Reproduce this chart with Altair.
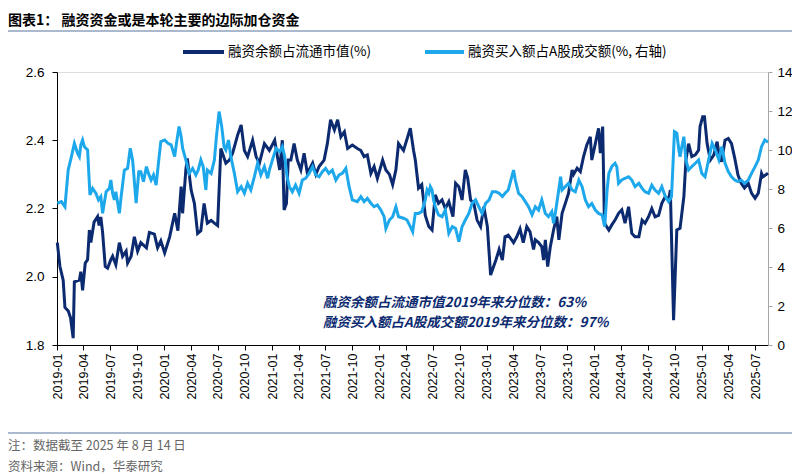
import altair as alt
import pandas as pd

# ---------------- data ----------------
dates_margin = [
    "2019-01-02", "2019-01-11", "2019-01-22", "2019-01-28", "2019-02-08", "2019-02-16", "2019-02-25",
    "2019-03-01", "2019-03-18", "2019-03-23", "2019-03-29", "2019-04-07", "2019-04-15", "2019-04-21",
    "2019-04-26", "2019-05-07", "2019-05-19", "2019-05-24", "2019-05-30", "2019-06-05", "2019-06-14",
    "2019-06-22", "2019-07-03", "2019-07-09", "2019-07-20", "2019-08-01", "2019-08-12", "2019-08-24",
    "2019-08-29", "2019-09-10", "2019-09-21", "2019-10-02", "2019-10-13", "2019-11-01", "2019-11-11",
    "2019-11-28", "2019-12-09", "2019-12-20", "2020-01-02", "2020-01-19", "2020-02-05", "2020-02-16",
    "2020-02-27", "2020-03-03", "2020-03-14", "2020-03-19", "2020-04-01", "2020-04-12", "2020-04-23",
    "2020-05-04", "2020-05-15", "2020-05-26", "2020-06-08", "2020-06-19", "2020-06-30", "2020-07-11",
    "2020-07-28", "2020-08-09", "2020-08-20", "2020-09-06", "2020-09-18", "2020-09-29", "2020-10-10",
    "2020-10-27", "2020-11-08", "2020-11-19", "2020-12-06", "2020-12-23", "2021-01-10", "2021-01-27",
    "2021-02-05", "2021-02-11", "2021-02-19", "2021-02-25", "2021-03-06", "2021-03-17", "2021-03-28",
    "2021-04-09", "2021-04-20", "2021-05-01", "2021-05-19", "2021-05-30", "2021-06-10", "2021-06-27",
    "2021-07-08", "2021-07-19", "2021-08-01", "2021-08-12", "2021-08-23", "2021-09-04", "2021-09-15",
    "2021-10-01", "2021-10-18", "2021-10-30", "2021-11-10", "2021-11-21", "2021-12-03", "2021-12-14",
    "2021-12-25", "2022-01-12", "2022-01-23", "2022-02-04", "2022-02-15", "2022-02-26", "2022-03-07",
    "2022-03-24", "2022-04-16", "2022-04-27", "2022-05-03", "2022-05-14", "2022-05-25", "2022-06-06",
    "2022-06-18", "2022-06-29", "2022-07-10", "2022-07-21", "2022-08-02", "2022-08-13", "2022-08-25",
    "2022-09-08", "2022-09-17", "2022-09-28", "2022-10-09", "2022-10-20", "2022-10-28", "2022-11-07",
    "2022-11-18", "2022-11-29", "2022-12-11", "2022-12-22", "2023-01-03", "2023-01-14", "2023-02-01",
    "2023-02-12", "2023-02-23", "2023-03-04", "2023-03-15", "2023-04-02", "2023-04-13", "2023-04-24",
    "2023-05-05", "2023-05-17", "2023-05-28", "2023-06-09", "2023-06-15", "2023-06-26", "2023-07-07",
    "2023-07-13", "2023-07-19", "2023-07-27", "2023-08-05", "2023-08-16", "2023-08-27", "2023-09-03",
    "2023-09-14", "2023-09-25", "2023-10-06", "2023-10-18", "2023-10-23", "2023-11-04", "2023-11-15",
    "2023-11-26", "2023-12-07", "2023-12-19", "2023-12-24", "2024-01-05", "2024-01-16", "2024-01-22",
    "2024-01-30", "2024-02-05", "2024-02-20", "2024-03-01", "2024-03-12", "2024-03-24", "2024-04-04",
    "2024-04-15", "2024-04-27", "2024-05-08", "2024-05-19", "2024-06-01", "2024-06-12", "2024-06-22",
    "2024-07-04", "2024-07-15", "2024-07-26", "2024-08-07", "2024-08-18", "2024-08-30", "2024-09-10",
    "2024-09-16", "2024-09-27", "2024-10-08", "2024-10-19", "2024-11-01", "2024-11-08", "2024-11-17",
    "2024-11-28", "2024-12-10", "2024-12-21", "2024-12-26", "2025-01-04", "2025-01-10", "2025-01-19",
    "2025-01-30", "2025-02-11", "2025-02-22", "2025-02-28", "2025-03-09", "2025-03-21", "2025-04-01",
    "2025-04-12", "2025-04-23", "2025-05-04", "2025-05-15", "2025-05-26", "2025-06-08", "2025-06-19",
    "2025-07-01", "2025-07-12", "2025-07-23", "2025-07-28", "2025-08-14",
]
margin_ratio = [
    2.10, 2.03, 1.99, 1.91, 1.90, 1.88, 1.82,
    1.985, 1.99, 2.015, 1.96, 2.04, 2.05, 2.137,
    2.10, 2.16, 2.176, 2.15, 2.175, 2.13, 2.03,
    2.025, 2.05, 2.06, 2.035, 2.10, 2.06, 2.075,
    2.04, 2.06, 2.117, 2.075, 2.10, 2.085, 2.13,
    2.125, 2.085, 2.105, 2.07, 2.117, 2.186, 2.135,
    2.264, 2.186, 2.313, 2.347, 2.254, 2.215, 2.127,
    2.135, 2.215, 2.157, 2.165, 2.157, 2.15, 2.376,
    2.333, 2.342, 2.362, 2.415, 2.445, 2.37, 2.352,
    2.40, 2.352, 2.333, 2.39, 2.37, 2.40, 2.313,
    2.40, 2.196, 2.215, 2.342, 2.342, 2.39, 2.342,
    2.313, 2.362, 2.303, 2.333, 2.30, 2.323, 2.342,
    2.39, 2.46, 2.43, 2.46, 2.41, 2.425, 2.376,
    2.386, 2.376, 2.37, 2.352, 2.357, 2.303, 2.323,
    2.288, 2.342, 2.313, 2.30, 2.27, 2.313, 2.39,
    2.37, 2.435, 2.371, 2.342, 2.26, 2.27, 2.18,
    2.147, 2.137, 2.24, 2.215, 2.225, 2.20, 2.22,
    2.176, 2.274, 2.264, 2.225, 2.313, 2.29, 2.225,
    2.215, 2.166, 2.147, 2.205, 2.147, 2.005, 2.049,
    2.08, 2.049, 2.117, 2.122, 2.10, 2.117, 2.14,
    2.10, 2.147, 2.132, 2.08, 2.108, 2.10, 2.088,
    2.049, 2.108, 2.03, 2.088, 2.137, 2.176, 2.108,
    2.186, 2.215, 2.245, 2.313, 2.30, 2.318, 2.308,
    2.352, 2.386, 2.41, 2.342, 2.39, 2.435, 2.362,
    2.44, 2.157, 2.137, 2.152, 2.166, 2.186, 2.196,
    2.157, 2.205, 2.127, 2.117, 2.117, 2.166, 2.157,
    2.176, 2.20, 2.176, 2.18, 2.215, 2.235, 2.225,
    2.254, 1.873, 2.137, 2.142, 2.235, 2.342, 2.39,
    2.352, 2.357, 2.371, 2.44, 2.469, 2.469, 2.39,
    2.342, 2.357, 2.396, 2.362, 2.337, 2.40, 2.405,
    2.39, 2.347, 2.298, 2.274, 2.26, 2.274, 2.245,
    2.23, 2.245, 2.303, 2.293, 2.303,
]

dates_buy = [
    "2019-01-02", "2019-01-16", "2019-01-28", "2019-02-08", "2019-02-19", "2019-03-01", "2019-03-12",
    "2019-03-18", "2019-03-23", "2019-03-29", "2019-04-04", "2019-04-15", "2019-04-23", "2019-05-02",
    "2019-05-13", "2019-05-22", "2019-05-30", "2019-06-05", "2019-06-17", "2019-06-28", "2019-07-03",
    "2019-07-09", "2019-07-15", "2019-07-20", "2019-08-01", "2019-08-07", "2019-08-18", "2019-08-29",
    "2019-09-07", "2019-09-15", "2019-09-27", "2019-10-06", "2019-10-13", "2019-10-22", "2019-11-01",
    "2019-11-08", "2019-11-17", "2019-11-25", "2019-12-04", "2019-12-13", "2019-12-20", "2020-01-02",
    "2020-01-13", "2020-01-24", "2020-02-05", "2020-02-11", "2020-02-20", "2020-02-27", "2020-03-03",
    "2020-03-14", "2020-03-25", "2020-04-06", "2020-04-17", "2020-04-25", "2020-05-04", "2020-05-12",
    "2020-05-21", "2020-05-26", "2020-06-08", "2020-06-19", "2020-06-26", "2020-07-05", "2020-07-14",
    "2020-07-22", "2020-07-28", "2020-08-06", "2020-08-14", "2020-08-26", "2020-09-06", "2020-09-18",
    "2020-09-29", "2020-10-10", "2020-10-21", "2020-11-02", "2020-11-13", "2020-11-24", "2020-12-06",
    "2020-12-17", "2020-12-23", "2021-01-04", "2021-01-15", "2021-01-27", "2021-02-05", "2021-02-13",
    "2021-02-21", "2021-03-01", "2021-03-11", "2021-03-22", "2021-04-03", "2021-04-14", "2021-04-25",
    "2021-05-07", "2021-05-19", "2021-05-30", "2021-06-10", "2021-06-21", "2021-07-02", "2021-07-13",
    "2021-07-25", "2021-08-06", "2021-08-17", "2021-08-28", "2021-09-09", "2021-09-20", "2021-10-01",
    "2021-10-18", "2021-10-30", "2021-11-10", "2021-11-21", "2021-12-03", "2021-12-14", "2021-12-25",
    "2022-01-06", "2022-01-17", "2022-01-23", "2022-02-04", "2022-02-15", "2022-02-26", "2022-03-07",
    "2022-03-24", "2022-04-05", "2022-04-16", "2022-04-24", "2022-05-03", "2022-05-14", "2022-05-25",
    "2022-06-06", "2022-06-12", "2022-06-18", "2022-06-23", "2022-06-29", "2022-07-04", "2022-07-10",
    "2022-07-21", "2022-08-02", "2022-08-13", "2022-08-25", "2022-09-06", "2022-09-17", "2022-09-28",
    "2022-10-09", "2022-10-20", "2022-11-01", "2022-11-12", "2022-11-24", "2022-12-05", "2022-12-16",
    "2022-12-28", "2023-01-09", "2023-01-20", "2023-02-01", "2023-02-12", "2023-02-23", "2023-03-04",
    "2023-03-15", "2023-04-02", "2023-04-08", "2023-04-19", "2023-05-01", "2023-05-12", "2023-05-23",
    "2023-06-04", "2023-06-15", "2023-06-26", "2023-07-07", "2023-07-19", "2023-07-30", "2023-08-10",
    "2023-08-16", "2023-08-22", "2023-09-01", "2023-09-09", "2023-09-14", "2023-09-25", "2023-10-06",
    "2023-10-18", "2023-10-29", "2023-11-10", "2023-11-21", "2023-12-02", "2023-12-13", "2023-12-24",
    "2024-01-05", "2024-01-16", "2024-01-28", "2024-02-06", "2024-02-14", "2024-02-20", "2024-03-01",
    "2024-03-12", "2024-03-18", "2024-03-24", "2024-04-04", "2024-04-15", "2024-04-27", "2024-05-08",
    "2024-05-19", "2024-06-01", "2024-06-12", "2024-06-22", "2024-07-04", "2024-07-15", "2024-07-26",
    "2024-08-07", "2024-08-18", "2024-08-30", "2024-09-10", "2024-09-20", "2024-09-30", "2024-10-08",
    "2024-10-15", "2024-10-19", "2024-10-25", "2024-11-01", "2024-11-08", "2024-11-17", "2024-11-28",
    "2024-12-10", "2024-12-21", "2025-01-01", "2025-01-12", "2025-01-24", "2025-02-05", "2025-02-16",
    "2025-02-28", "2025-03-10", "2025-03-21", "2025-04-01", "2025-04-12", "2025-04-23", "2025-05-04",
    "2025-05-15", "2025-05-26", "2025-06-08", "2025-06-19", "2025-07-01", "2025-07-12", "2025-07-23",
    "2025-08-03", "2025-08-14",
]
buy_ratio = [
    7.27, 7.35, 7.09, 8.97, 9.66, 10.34, 9.83,
    9.66, 10.26, 10.51, 10.17, 10.0, 7.69, 8.03,
    7.78, 7.44, 7.61, 6.75, 7.86, 8.03, 8.46,
    7.78, 7.44, 7.86, 6.75, 7.61, 8.97, 9.06,
    10.09, 9.49, 7.27, 8.89, 8.89, 8.38, 9.15,
    8.8, 8.46, 8.72, 8.2, 9.49, 10.43, 10.51,
    10.34, 10.26, 9.66, 10.34, 11.2, 10.68, 10.09,
    9.49, 8.8, 9.06, 8.72, 8.97, 9.49, 9.15,
    7.95, 8.97, 8.8, 9.49, 10.68, 11.97, 11.2,
    10.17, 10.0, 10.51, 9.66, 8.8, 7.86, 8.12,
    7.78, 8.29, 7.95, 8.63, 9.32, 8.72, 9.15,
    8.55, 8.97, 9.57, 10.09, 9.91, 10.17, 9.66,
    8.63, 8.12, 7.86, 8.2, 7.78, 8.46, 8.55,
    8.8, 9.15, 8.72, 8.63, 8.89, 9.06, 8.8,
    8.97, 8.46, 8.72, 8.8, 9.06, 8.12, 7.44,
    7.35, 7.61, 7.35, 7.52, 7.27, 7.09, 7.18,
    6.92, 6.58, 5.98, 6.41, 6.58, 7.09, 6.58,
    6.5, 6.41, 6.07, 5.81, 6.75, 6.75, 6.84,
    7.44, 7.95, 7.78, 8.12, 7.95, 7.44, 7.09,
    6.67, 6.58, 6.92, 5.73, 6.07, 5.98, 5.3,
    6.07, 6.41, 6.75, 7.26, 7.44, 7.09, 6.75,
    7.26, 7.44, 7.86, 7.86, 7.78, 7.61, 7.78,
    7.95, 8.97, 8.46, 7.78, 7.61, 7.35, 7.09,
    6.67, 7.09, 6.92, 7.44, 6.75, 6.58, 6.84,
    6.24, 6.75, 7.78, 8.63, 7.95, 8.12, 8.29,
    7.95, 7.86, 8.46, 8.12, 7.44, 7.09, 7.26,
    6.92, 6.75, 6.67, 6.07, 7.95, 8.8, 9.15,
    9.32, 9.15, 8.29, 8.46, 8.55, 8.63, 8.46,
    8.12, 8.29, 8.03, 7.86, 7.78, 8.2, 7.95,
    7.78, 8.12, 7.61, 7.35, 7.6, 10.94, 10.86,
    10.0, 9.66, 10.17, 10.68, 9.49, 8.97, 9.15,
    9.32, 9.49, 8.8, 8.63, 9.49, 10.34, 10.0,
    9.49, 10.17, 9.32, 8.89, 8.63, 8.46, 8.38,
    8.46, 8.29, 8.46, 8.8, 9.15, 9.49, 10.17,
    10.51, 10.4,
]

quarter_ticks = [
    "2019-01", "2019-04", "2019-07", "2019-10", "2020-01", "2020-04", "2020-07", "2020-10",
    "2021-01", "2021-04", "2021-07", "2021-10", "2022-01", "2022-04", "2022-07", "2022-10",
    "2023-01", "2023-04", "2023-07", "2023-10", "2024-01", "2024-04", "2024-07", "2024-10",
    "2025-01", "2025-04", "2025-07",
]
left_ticks = [1.8, 2.0, 2.2, 2.4, 2.6]
right_ticks = [0, 2, 4, 6, 8, 10, 12, 14]

series_names = ["融资余额占流通市值(%)", "融资买入额占A股成交额(%, 右轴)"]
title_text = "图表1：  融资资金或是本轮主要的边际加仓资金"
note_lines = ["融资余额占流通市值2019年来分位数：63%", "融资买入额占A股成交额2019年来分位数：97%"]
footer_lines = ["注：数据截至 2025 年 8 月 14 日", "资料来源：Wind，华泰研究"]

# ---------------- styling ----------------
DARK = "#0b2a6f"
LIGHT = "#1ea8ec"
FONT = "Liberation Sans, Noto Sans CJK SC"
CJK = "Noto Sans CJK SC"

df_a = pd.DataFrame({"date": dates_margin, "v": margin_ratio})
df_b = pd.DataFrame({"date": dates_buy, "v": buy_ratio})

x_scale = alt.Scale(domain=[alt.DateTime(year=2019, month=1, date=1),
                            alt.DateTime(year=2025, month=8, date=14)])
tick_vals = [alt.DateTime(year=int(s[:4]), month=int(s[5:]), date=1) for s in quarter_ticks]

x_axis = alt.Axis(values=tick_vals, format="%Y-%m", labelAngle=270, labelFont=FONT,
                  labelFontSize=12.5, labelColor="#000000", domainColor="#000000",
                  tickColor="#000000", tickSize=5, labelPadding=3, grid=False, title=None,
                  labelOverlap=False, labelBound=False, labelFlush=False)

line_a = alt.Chart(df_a).mark_line(color=DARK, strokeWidth=3).encode(
    x=alt.X("date:T", scale=x_scale, axis=x_axis),
    y=alt.Y("v:Q", scale=alt.Scale(domain=[1.8, 2.6], nice=False, zero=False),
            axis=alt.Axis(orient="left", values=left_ticks, format=".1f", title=None, grid=False,
                          labelFont=FONT, labelFontSize=13.5, labelColor="#000000",
                          domainColor="#000000", tickColor="#000000", tickSize=5, labelPadding=8)),
)

line_b = alt.Chart(df_b).mark_line(color=LIGHT, strokeWidth=3).encode(
    x=alt.X("date:T", scale=x_scale, axis=x_axis),
    y=alt.Y("v:Q", scale=alt.Scale(domain=[0, 14], nice=False, zero=False),
            axis=alt.Axis(orient="right", values=right_ticks, format="d", title=None, grid=False,
                          labelFont=FONT, labelFontSize=13.5, labelColor="#000000",
                          domainColor="#a6a6a6", tickColor="#a6a6a6", tickSize=4, labelPadding=5)),
)

# legend (drawn manually to match the reference layout)
leg_df = pd.DataFrame({"name": series_names})
leg_sw1 = alt.Chart(leg_df.iloc[[0]]).mark_rule(color=DARK, strokeWidth=4).encode(
    x=alt.value(126), x2=alt.value(167), y=alt.value(-20))
leg_sw2 = alt.Chart(leg_df.iloc[[1]]).mark_rule(color=LIGHT, strokeWidth=4).encode(
    x=alt.value(368), x2=alt.value(407), y=alt.value(-20))
leg_t1 = alt.Chart(leg_df.iloc[[0]]).mark_text(align="left", baseline="middle", font=CJK,
                                                fontSize=13.5, color="#000000").encode(
    text="name:N", x=alt.value(171), y=alt.value(-20))
leg_t2 = alt.Chart(leg_df.iloc[[1]]).mark_text(align="left", baseline="middle", font=CJK,
                                                fontSize=13.5, color="#000000").encode(
    text="name:N", x=alt.value(411), y=alt.value(-20))

# title + separators
title_df = pd.DataFrame({"t": [title_text]})
title_mark = alt.Chart(title_df).mark_text(align="left", baseline="middle", font=CJK, fontSize=14,
                                           fontWeight="bold", color="#000000").encode(
    text="t:N", x=alt.value(-49), y=alt.value(-51))
sep_top = alt.Chart(title_df).mark_rule(color="#8ea2bd", strokeWidth=1.5).encode(
    x=alt.value(-49), x2=alt.value(735), y=alt.value(-41))
sep_bot = alt.Chart(title_df).mark_rule(color="#8ea2bd", strokeWidth=1.5).encode(
    x=alt.value(-49), x2=alt.value(735), y=alt.value(361))

# in-chart notes
note1 = alt.Chart(pd.DataFrame({"t": [note_lines[0]]})).mark_text(
    align="left", baseline="middle", font=CJK, fontSize=13.5, fontWeight="bold",
    fontStyle="italic", color=DARK).encode(text="t:N", x=alt.value(266), y=alt.value(231))
note2 = alt.Chart(pd.DataFrame({"t": [note_lines[1]]})).mark_text(
    align="left", baseline="middle", font=CJK, fontSize=13.5, fontWeight="bold",
    fontStyle="italic", color=DARK).encode(text="t:N", x=alt.value(266), y=alt.value(251))

# footer
foot1 = alt.Chart(pd.DataFrame({"t": [footer_lines[0]]})).mark_text(
    align="left", baseline="middle", font=CJK, fontSize=12.5, color="#666666").encode(
    text="t:N", x=alt.value(-49), y=alt.value(374))
foot2 = alt.Chart(pd.DataFrame({"t": [footer_lines[1]]})).mark_text(
    align="left", baseline="middle", font=CJK, fontSize=12.5, color="#666666").encode(
    text="t:N", x=alt.value(-49), y=alt.value(395))

chart = alt.layer(
    line_a, line_b,
    leg_sw1, leg_sw2, leg_t1, leg_t2,
    title_mark, sep_top, sep_bot, note1, note2, foot1, foot2,
).resolve_scale(y="independent").properties(
    width=711, height=273,
    autosize=alt.AutoSizeParams(type="none"),
    padding={"left": 49, "top": 64, "right": 24, "bottom": 129},
).configure_view(stroke=None).configure(background="#ffffff")

chart.save("out.html", embed_options={"renderer": "svg", "actions": False})
